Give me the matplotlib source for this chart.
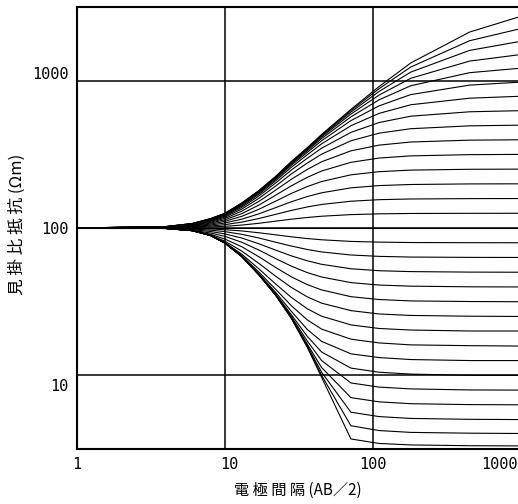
import matplotlib.pyplot as plt
from matplotlib.ticker import NullLocator
from matplotlib.transforms import ScaledTranslation

# 電極間隔 AB/2
spacing = [1, 4, 6, 8, 10, 13, 17, 22, 28, 36, 45, 71, 110, 180, 450, 1000]

# 見掛比抵抗 (Ωm): 下層が高比抵抗の曲線
rho_up = [
    [100, 100.2, 100.7, 101.6, 102.7, 104.7, 107.7, 111.3, 114.7, 117.9, 120.2, 123.3, 124.8, 125.5, 125.8, 125.9],
    [100, 100.5, 101.5, 103.1, 105.4, 109.7, 116.1, 123.8, 131.5, 139.0, 144.5, 152.0, 155.7, 157.4, 158.3, 158.5],
    [100, 100.7, 102.2, 104.7, 108.2, 114.8, 124.9, 137.5, 150.5, 163.5, 173.4, 187.3, 194.1, 197.4, 199.2, 199.5],
    [100, 100.9, 102.9, 106.3, 111.0, 120.1, 134.2, 152.1, 171.4, 191.1, 206.8, 229.6, 241.2, 247.2, 250.4, 251],
    [100, 101.2, 103.7, 107.9, 113.8, 125.2, 143.3, 166.9, 193.0, 220.7, 243.7, 279.1, 298.4, 308.7, 314.7, 316],
    [100, 101.4, 104.3, 109.4, 116.3, 130.1, 151.9, 180.7, 213.8, 249.8, 281.6, 333.9, 365.2, 383.4, 394.8, 397],
    [100, 101.6, 105.0, 110.8, 118.6, 134.5, 159.3, 192.6, 232.1, 276.0, 317.2, 390.8, 440.3, 472, 493.7, 499],
    [100, 101.8, 105.5, 112.0, 120.5, 138.1, 165.3, 202.0, 246.6, 297.5, 348.0, 445.6, 519.8, 573.9, 614.9, 626],
    [100, 101.9, 106.0, 113.0, 122.1, 141.0, 169.8, 208.9, 257.7, 314.1, 372.8, 494.5, 599.6, 686.2, 760.5, 784],
    [100, 102.0, 106.4, 113.8, 123.3, 143.2, 173.1, 214.0, 265.8, 326.1, 391.4, 535.5, 674.5, 804.4, 933, 978],
    [100, 102.1, 106.7, 114.5, 124.2, 144.8, 175.5, 217.6, 271.4, 334.7, 405.3, 568.1, 741.3, 923.5, 1133, 1216],
    [100, 102.2, 106.9, 115.0, 124.8, 146.0, 177.2, 220.0, 275.5, 340.9, 415.2, 593.5, 798, 1038, 1358, 1505],
    [100, 102.2, 107.1, 115.4, 125.3, 146.9, 178.4, 221.8, 278.3, 345.3, 422.4, 612.8, 844.7, 1143, 1605, 1851],
    [100, 102.3, 107.2, 115.7, 125.6, 147.5, 179.3, 223.0, 280.3, 348.5, 427.6, 627.4, 882.3, 1237, 1867, 2258],
    [100, 102.3, 107.3, 115.9, 125.9, 147.9, 179.9, 223.9, 281.8, 350.8, 431.5, 638.3, 912, 1318, 2138, 2733],
]

# 下層と上層が同じ比抵抗
rho_flat = [100, 100, 100, 100, 100, 100, 100, 100, 100, 100, 100, 100, 100, 100, 100, 100]

# 下層が低比抵抗の曲線
rho_down = [
    [100, 99.8, 99.3, 98.5, 97.4, 95.5, 92.8, 89.9, 87.2, 84.8, 83.2, 81.1, 80.2, 79.7, 79.5, 79.4],
    [100, 99.5, 98.4, 96.7, 94.5, 90.6, 85.5, 80.1, 75.5, 71.5, 68.8, 65.6, 64.2, 63.5, 63.2, 63.1],
    [100, 99.4, 97.5, 94.7, 91.2, 85.5, 78.1, 70.8, 64.8, 59.9, 56.7, 52.9, 51.3, 50.6, 50.2, 50.1],
    [100, 99.3, 96.6, 92.5, 87.7, 80.0, 70.8, 62.0, 55.2, 49.8, 46.5, 42.6, 41.0, 40.3, 39.9, 39.8],
    [100, 99.3, 96.1, 90.6, 84.1, 74.6, 63.7, 54.0, 46.7, 41.3, 38.0, 34.2, 32.7, 32.0, 31.7, 31.6],
    [100, 99.3, 96.0, 89.5, 81.3, 69.7, 57.4, 47.1, 39.6, 34.1, 30.9, 27.5, 26.1, 25.5, 25.2, 25.1],
    [100, 99.3, 96.0, 89.1, 79.7, 66.4, 52.7, 41.7, 33.9, 28.3, 25.2, 22.0, 20.8, 20.3, 20.0, 20.0],
    [100, 99.3, 96.0, 89.0, 79.2, 64.9, 50.1, 38.4, 29.8, 23.8, 20.6, 17.6, 16.6, 16.1, 15.9, 15.8],
    [100, 99.3, 96.0, 89.0, 79.1, 64.3, 48.8, 36.6, 27.3, 20.5, 17.0, 14.0, 13.2, 12.8, 12.6, 12.6],
    [100, 99.3, 96.0, 89.0, 79.0, 64.1, 48.3, 35.7, 25.9, 18.4, 14.4, 11.2, 10.5, 10.2, 10.0, 10.0],
    [100, 99.3, 96.0, 89.0, 79.0, 64.0, 48.1, 35.3, 25.2, 17.1, 12.6, 8.88, 8.32, 8.09, 7.96, 7.94],
    [100, 99.3, 96.0, 89.0, 79.0, 64.0, 48.1, 35.1, 24.8, 16.3, 11.3, 7.06, 6.61, 6.42, 6.33, 6.31],
    [100, 99.3, 96.0, 89.0, 79.0, 64.0, 48.0, 35.1, 24.7, 15.9, 10.5, 5.62, 5.25, 5.10, 5.03, 5.01],
    [100, 99.3, 96.0, 89.0, 79.0, 64.0, 48.0, 35.0, 24.6, 15.7, 10.0, 4.55, 4.22, 4.10, 4.05, 4.03],
    [100, 99.3, 96.0, 89.0, 79.0, 64.0, 48.0, 35.0, 24.5, 15.5, 9.7, 3.70, 3.45, 3.37, 3.33, 3.32],
]

x_ticks = [1, 10, 100, 1000]
x_labels = ["1", "10", "100", "1000"]
y_ticks = [10, 100, 1000]
y_labels = ["10", "100", "1000"]

cjk = ["Noto Sans CJK JP", "DejaVu Sans"]

fig = plt.figure(figsize=(5.18, 5.04), dpi=100)
ax = fig.add_axes([0.1486, 0.1091, 0.857, 0.877])

for rho in rho_down:
    ax.plot(spacing, rho, color="black", lw=0.8)
ax.plot(spacing, rho_flat, color="black", lw=0.8)
for rho in rho_up:
    ax.plot(spacing, rho, color="black", lw=0.8)

ax.set_xscale("log")
ax.set_yscale("log")
ax.set_xlim(1, 1000)
ax.set_ylim(10 ** 0.5, 10 ** 3.5)

ax.set_xticks(x_ticks)
ax.set_xticklabels(x_labels, family="DejaVu Sans Mono", fontsize=11)
ax.set_yticks(y_ticks)
ax.set_yticklabels(y_labels, family="DejaVu Sans Mono", fontsize=11)
ax.xaxis.set_minor_locator(NullLocator())
ax.yaxis.set_minor_locator(NullLocator())
ax.tick_params(length=0, pad=6)

ax.grid(True, color="black", lw=1.1)
for s in ax.spines.values():
    s.set_linewidth(1.5)

# 端のラベル位置の調整
xlabs = ax.get_xticklabels()
xlabs[1].set_transform(xlabs[1].get_transform() + ScaledTranslation(0.04, 0, fig.dpi_scale_trans))
xlabs[-1].set_ha("right")
xlabs[-1].set_transform(xlabs[-1].get_transform() + ScaledTranslation(-0.03, 0, fig.dpi_scale_trans))
ylabs = ax.get_yticklabels()
ylabs[0].set_transform(ylabs[0].get_transform() + ScaledTranslation(0, -0.10, fig.dpi_scale_trans))
ylabs[2].set_transform(ylabs[2].get_transform() + ScaledTranslation(0, 0.08, fig.dpi_scale_trans))

fig.text(0.575, 0.028, "電 極 間 隔 (AB／2)", family=cjk, fontsize=11,
         ha="center", va="center")
fig.text(0.033, 0.555, "見 掛 比 抵 抗 (Ωm)", family=cjk, fontsize=12,
         ha="center", va="center", rotation=90)

fig.savefig("out.png", dpi=100)
